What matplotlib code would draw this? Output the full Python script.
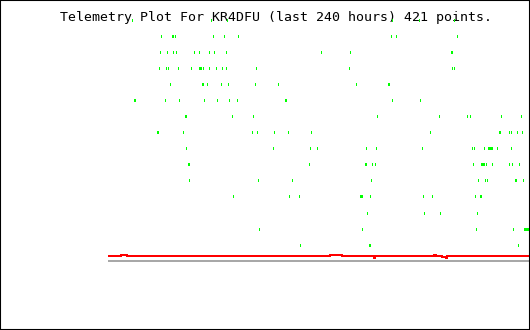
import matplotlib
matplotlib.use("Agg")
import matplotlib.pyplot as plt
import numpy as np

# ---- data (hours within last 240 h, telemetry level) ----
title = "Telemetry Plot For KR4DFU (last 240 hours) 421 points."

lvl15 = [13.7, 58.7, 67.8, 161.9, 177.3, 197.2]
lvl14 = [30.2, 36.5, 37.1, 38.2, 59.9, 66.1, 74.1, 161.3, 164.2, 199.0]
lvl13 = [29.6, 33.6, 37.1, 38.8, 49.0, 51.9, 57.6, 60.4, 67.3, 121.4, 138.0, 195.5, 196.1]
lvl12 = [29.1, 33.1, 34.2, 39.9, 47.3, 51.9, 52.4, 53.0, 54.2, 57.6, 61.6, 65.0, 67.3,
         84.4, 137.4, 196.1, 197.2]
lvl11 = [35.3, 53.6, 54.2, 56.4, 64.4, 68.4, 83.8, 96.9, 141.4, 159.6, 160.2]
lvl10 = [14.8, 15.4, 32.5, 40.5, 54.7, 62.1, 69.0, 73.5, 100.9, 101.5, 161.9, 177.9]
lvl9 = [43.9, 44.5, 70.7, 82.7, 153.3, 188.7, 204.7, 206.4, 224.0, 235.4]
lvl8 = [27.9, 28.5, 42.8, 82.1, 84.9, 94.6, 102.6, 115.7, 183.6, 222.9, 223.5, 228.6,
        229.7, 233.2, 236.0]
lvl7 = [44.5, 94.1, 115.2, 119.1, 147.1, 152.8, 179.0, 207.5, 208.6, 214.3, 216.6,
        217.2, 217.8, 218.3, 218.9, 221.8, 229.7]
lvl6 = [45.6, 46.2, 114.6, 146.5, 147.1, 150.5, 152.2, 208.1, 212.6, 213.2, 213.8,
        214.3, 215.5, 218.9, 228.6, 230.3, 234.3]
lvl5 = [46.2, 85.5, 104.9, 149.9, 210.9, 214.9, 216.1, 232.0, 232.6, 236.6]
lvl4 = [71.3, 103.2, 108.9, 143.7, 144.2, 144.8, 149.4, 179.6, 184.7, 209.2, 212.1, 212.6]
lvl3 = [147.6, 180.1, 189.3, 210.4]
lvl2 = [86.1, 144.8, 209.8, 230.9, 237.1, 237.7, 238.3, 238.9, 239.4]
lvl1 = [109.5, 148.8, 149.4, 233.7]

levels = {15: lvl15, 14: lvl14, 13: lvl13, 12: lvl12, 11: lvl11, 10: lvl10, 9: lvl9,
          8: lvl8, 7: lvl7, 6: lvl6, 5: lvl5, 4: lvl4, 3: lvl3, 2: lvl2, 1: lvl1}

red_hours = [0, 7.4, 10.8, 126.6, 133.4, 151.6, 152.2, 185.8, 187.0, 190.4, 192.7, 193.3, 240]
red_vals = [0.31, 0.375, 0.31, 0.375, 0.31, 0.19, 0.31, 0.375, 0.31, 0.25, 0.19, 0.31, 0.31]
gray_hours = [0, 240]
gray_vals = [0, 0]

# ---- figure ----
fig = plt.figure(figsize=(5.3, 3.3), dpi=100)
fig.patch.set_facecolor("white")
ax = fig.add_axes([0, 0, 1, 1])
ax.set_xlim(-61.57, 240.57)
ax.set_ylim(-4.318, 16.243)
ax.set_xticks([])
ax.set_yticks([])
for s in ax.spines.values():
    s.set_color("black")
    s.set_linewidth(1.5)

ax.plot(gray_hours, gray_vals, color="#a8a8a8", lw=1.44, solid_capstyle="butt",
        antialiased=False)
ax.plot(red_hours, red_vals, color="#ff0000", lw=1.44, drawstyle="steps-post",
        solid_capstyle="butt", antialiased=False)

half = 0.0623
for lv, xs in levels.items():
    xs = np.asarray(xs)
    ax.vlines(xs, lv - half, lv + half, colors="#00ff00", linewidth=0.55,
              antialiased=False, zorder=3)

ax.text(276 / 530, 1 - 17.5 / 330, title, family="DejaVu Sans Mono", fontsize=9.55,
        ha="center", va="center", color="black", zorder=2, transform=fig.transFigure)

fig.savefig("out.png", dpi=100, facecolor="white")
